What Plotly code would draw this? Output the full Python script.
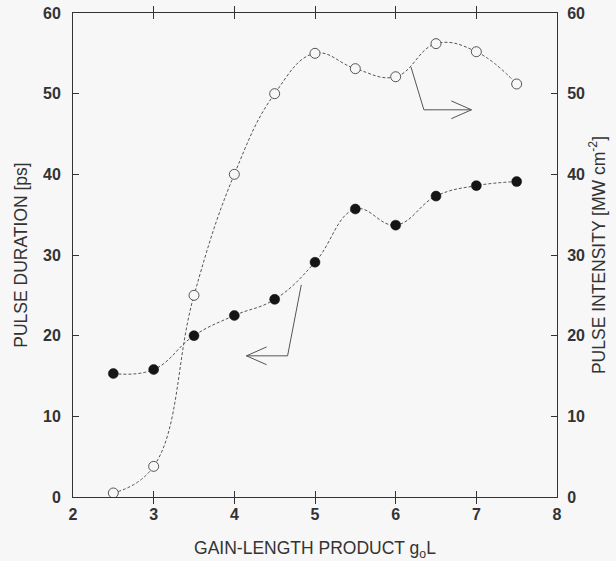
import plotly.graph_objects as go

# Gain-length product values (x) and the two measured quantities
gain_length = [2.5, 3.0, 3.5, 4.0, 4.5, 5.0, 5.5, 6.0, 6.5, 7.0, 7.5]
pulse_duration = [15.3, 15.8, 20.0, 22.5, 24.5, 29.1, 35.7, 33.7, 37.3, 38.6, 39.1]
pulse_intensity = [0.5, 3.8, 25.0, 40.0, 50.0, 55.0, 53.1, 52.1, 56.2, 55.2, 51.2]

x_ticks = [2, 3, 4, 5, 6, 7, 8]
y_ticks = [0, 10, 20, 30, 40, 50, 60]

# Pointer arrows telling which axis each curve belongs to
dur_arrow_x = [4.83, 4.66, 4.15]
dur_arrow_y = [26.3, 17.5, 17.5]
dur_head_x = [4.40, 4.15, 4.40]
dur_head_y = [18.6, 17.5, 16.4]

int_arrow_x = [6.19, 6.35, 6.94]
int_arrow_y = [53.3, 48.0, 48.0]
int_head_x = [6.69, 6.94, 6.69]
int_head_y = [49.1, 48.0, 46.9]

BG = "#f7f7f7"
INK = "#333333"
FONT = "Liberation Sans, Arial, sans-serif"

fig = go.Figure()

line_style = dict(color="#555555", width=1, dash="3px,2px", shape="spline", smoothing=1.2)

fig.add_trace(go.Scatter(
    x=gain_length, y=pulse_intensity, mode="lines+markers", yaxis="y2",
    line=line_style,
    marker=dict(symbol="circle", size=10, color=BG, line=dict(color="#555555", width=1)),
    showlegend=False, hoverinfo="skip"))

fig.add_trace(go.Scatter(
    x=gain_length, y=pulse_duration, mode="lines+markers",
    line=line_style,
    marker=dict(symbol="circle", size=10, color="#151515", line=dict(color="#151515", width=0.5)),
    showlegend=False, hoverinfo="skip"))

arrow_line = dict(color="#555555", width=1)
for ax_, ay_ in [(dur_arrow_x, dur_arrow_y), (dur_head_x, dur_head_y),
                 (int_arrow_x, int_arrow_y), (int_head_x, int_head_y)]:
    fig.add_trace(go.Scatter(x=ax_, y=ay_, mode="lines", line=arrow_line,
                             showlegend=False, hoverinfo="skip"))

tick_font = dict(family=FONT, size=16, color=INK, weight="bold")
title_font = dict(family=FONT, size=17.5, color=INK)

fig.update_layout(
    width=616, height=561,
    margin=dict(l=73, r=59, t=13, b=64),
    paper_bgcolor=BG, plot_bgcolor=BG,
    xaxis=dict(
        range=[2, 8], tickvals=x_ticks, ticktext=[str(v) for v in x_ticks],
        showgrid=False, zeroline=False, showline=True, linecolor=INK, linewidth=1,
        mirror="allticks", ticks="inside", ticklen=6, tickcolor=INK,
        tickfont=tick_font, ticklabelstandoff=3, automargin=False,
        title=dict(text="GAIN-LENGTH PRODUCT g<sub>o</sub>L", font=title_font, standoff=33),
    ),
    yaxis=dict(
        range=[0, 60], tickvals=y_ticks, ticktext=[str(v) for v in y_ticks],
        showgrid=False, zeroline=False, showline=True, linecolor=INK, linewidth=1,
        ticks="inside", ticklen=6, tickcolor=INK, automargin=False,
        tickfont=tick_font, ticklabelstandoff=8,
        title=dict(text="PULSE DURATION [ps]", font=title_font, standoff=10),
    ),
    yaxis2=dict(
        range=[0, 60], tickvals=y_ticks, ticktext=[str(v) for v in y_ticks],
        overlaying="y", side="right", automargin=False,
        showgrid=False, zeroline=False, showline=True, linecolor=INK, linewidth=1,
        ticks="inside", ticklen=6, tickcolor=INK,
        tickfont=tick_font, ticklabelstandoff=6,
        title=dict(text="PULSE INTENSITY [MW cm<sup>-2</sup>]", font=title_font, standoff=8),
    ),
)

fig.write_html("out.html")
